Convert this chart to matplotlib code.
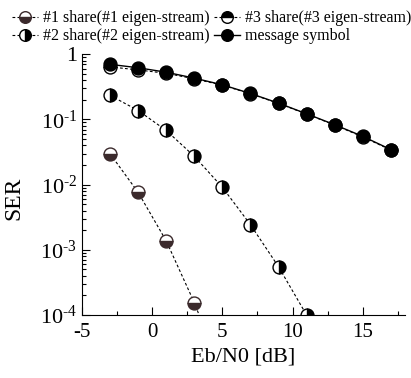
import math
import matplotlib.pyplot as plt
from matplotlib.ticker import FixedLocator, FuncFormatter, LogLocator, NullFormatter

plt.rcParams['font.family'] = ['Liberation Serif', 'DejaVu Serif']
plt.rcParams['mathtext.fontset'] = 'custom'
plt.rcParams['mathtext.rm'] = 'Liberation Serif'
plt.rcParams['mathtext.it'] = 'Liberation Serif:italic'
plt.rcParams['axes.unicode_minus'] = False

# Eb/N0 values (dB)
ebn0 = [-3, -1, 1, 3, 5, 7, 9, 11, 13, 15, 17]

# SER curves
ser_share1 = [0.0297, 0.0076, 0.00137, 0.000155, 0.000012]
ser_share2 = [0.234, 0.137, 0.0677, 0.0272, 0.0091, 0.00243, 0.00055, 0.0001, 0.000015]
ser_share3 = [0.64, 0.575, 0.51, 0.42, 0.335, 0.248, 0.176, 0.121, 0.082, 0.054, 0.034]
ser_message = [0.70, 0.62, 0.53, 0.43, 0.34, 0.25, 0.178, 0.122, 0.083, 0.055, 0.0345]

fig = plt.figure(figsize=(4.11, 3.78), dpi=100)
ax = fig.add_axes([0.1995, 0.1667, 0.7855, 0.6898])

ms = 9.3
dash = (0, (2.5, 2))
l1, = ax.plot(ebn0[:len(ser_share1)], ser_share1, linestyle=dash, color='black', lw=0.8,
              marker='o', ms=ms, fillstyle='bottom', markerfacecolor='#3b2a2c',
              markerfacecoloralt='white', markeredgecolor='#3b2a2c', mew=1.0,
              label='#1 share(#1 eigen-stream)')
l2, = ax.plot(ebn0[:len(ser_share2)], ser_share2, linestyle=dash, color='black', lw=0.8,
              marker='o', ms=ms, fillstyle='right', markerfacecolor='black',
              markerfacecoloralt='white', markeredgecolor='black', mew=1.0,
              label='#2 share(#2 eigen-stream)')
l3, = ax.plot(ebn0, ser_share3, linestyle=dash, color='black', lw=0.8,
              marker='o', ms=ms, fillstyle='top', markerfacecolor='black',
              markerfacecoloralt='white', markeredgecolor='black', mew=1.0,
              label='#3 share(#3 eigen-stream)')
l4, = ax.plot(ebn0, ser_message, linestyle='-', color='black', lw=1.0,
              marker='o', ms=ms, markerfacecolor='black', markeredgecolor='black',
              label='message symbol')

ax.set_yscale('log')
ax.set_xlim(-5, 18)
ax.set_ylim(1e-4, 1)

ax.spines['top'].set_visible(False)
ax.spines['right'].set_visible(False)

ax.xaxis.set_major_locator(FixedLocator([-5, 0, 5, 10, 15]))
ax.xaxis.set_minor_locator(FixedLocator([-2.5, 2.5, 7.5, 12.5, 17.5]))
ax.yaxis.set_major_locator(FixedLocator([1e-4, 1e-3, 1e-2, 1e-1, 1]))
ax.yaxis.set_minor_locator(LogLocator(base=10, subs=range(2, 10)))
ax.yaxis.set_minor_formatter(NullFormatter())


def fmt(v, pos):
    if v >= 1:
        return '1'
    e = int(round(math.log10(v)))
    return r'$\mathrm{10}^{\text{%d}}$' % e


ax.yaxis.set_major_formatter(FuncFormatter(fmt))
ax.tick_params(which='both', direction='in', labelsize=15, width=0.8)
ax.tick_params(which='major', length=6)
ax.tick_params(which='minor', length=3)
ax.tick_params(axis='x', pad=6)
ax.tick_params(axis='y', labelsize=16)

ax.set_xlabel('Eb/N0 [dB]', fontsize=16)
ax.set_ylabel('SER', fontsize=17)
ax.yaxis.set_label_coords(-0.178, 0.448)

fig.legend(handles=[l1, l2, l3, l4], ncol=2, loc='upper center',
           bbox_to_anchor=(0.515, 1.0), frameon=False, fontsize=11.5,
           handlelength=1.6, handletextpad=0.3, columnspacing=0.3,
           labelspacing=0.12, borderaxespad=0.25, markerscale=0.9)

fig.savefig('out.png', dpi=100)
